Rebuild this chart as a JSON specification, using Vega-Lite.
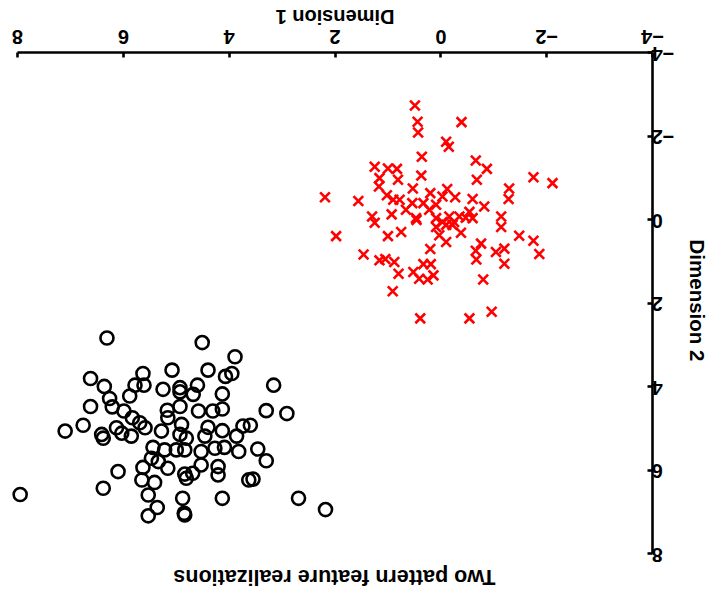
{
  "$schema": "https://vega.github.io/schema/vega-lite/v6.json",
  "autosize": "none",
  "width": 635,
  "height": 501,
  "padding": {"left": 17, "top": 52, "right": 61, "bottom": 45},
  "background": "white",
  "config": {"view": {"stroke": null}, "font": "Liberation Sans"},
  "title": {"text": "Two pattern feature realizations", "orient": "bottom", "angle": 180, "fontSize": 21.5, "font": "Liberation Sans", "fontWeight": "bold", "anchor": "middle", "offset": 24, "color": "black"},
  "data": {"values": [
    {"g":"A","x":0.48,"y":-2.72},{"g":"A","x":0.43,"y":-2.33},{"g":"A","x":0.42,"y":-2.07},{"g":"A","x":-0.40,"y":-2.32},
    {"g":"A","x":-0.11,"y":-1.85},{"g":"A","x":-0.16,"y":-1.73},{"g":"A","x":0.35,"y":-1.49},{"g":"A","x":-0.67,"y":-1.40},
    {"g":"A","x":-0.88,"y":-1.20},{"g":"A","x":1.24,"y":-1.25},{"g":"A","x":0.99,"y":-1.21},{"g":"A","x":0.82,"y":-1.20},
    {"g":"A","x":1.15,"y":-0.98},{"g":"A","x":0.80,"y":-0.94},{"g":"A","x":0.36,"y":-1.04},{"g":"A","x":-0.69,"y":-0.94},
    {"g":"A","x":-1.76,"y":-1.00},{"g":"A","x":-2.12,"y":-0.86},{"g":"A","x":-1.30,"y":-0.73},{"g":"A","x":1.16,"y":-0.78},
    {"g":"A","x":0.52,"y":-0.73},{"g":"A","x":2.18,"y":-0.52},{"g":"A","x":1.55,"y":-0.43},{"g":"A","x":1.01,"y":-0.57},
    {"g":"A","x":0.89,"y":-0.46},{"g":"A","x":0.77,"y":-0.46},{"g":"A","x":0.19,"y":-0.62},{"g":"A","x":-0.13,"y":-0.72},
    {"g":"A","x":-0.28,"y":-0.52},{"g":"A","x":-0.61,"y":-0.48},{"g":"A","x":-1.29,"y":-0.48},{"g":"A","x":-0.83,"y":-0.30},
    {"g":"A","x":0.53,"y":-0.38},{"g":"A","x":0.32,"y":-0.38},{"g":"A","x":0.65,"y":-0.22},{"g":"A","x":0.08,"y":-0.34},
    {"g":"A","x":-0.04,"y":-0.54},{"g":"A","x":0.92,"y":-0.11},{"g":"A","x":1.29,"y":-0.06},{"g":"A","x":1.24,"y":0.09},
    {"g":"A","x":0.45,"y":0.02},{"g":"A","x":0.08,"y":-0.02},{"g":"A","x":-0.04,"y":0.07},{"g":"A","x":-0.17,"y":-0.06},
    {"g":"A","x":-0.36,"y":-0.06},{"g":"A","x":-0.48,"y":-0.03},{"g":"A","x":-0.61,"y":-0.02},{"g":"A","x":-1.15,"y":-0.06},
    {"g":"A","x":-1.15,"y":0.19},{"g":"A","x":0.08,"y":0.19},{"g":"A","x":-0.11,"y":0.14},{"g":"A","x":-0.23,"y":0.14},
    {"g":"A","x":-0.39,"y":0.33},{"g":"A","x":0.02,"y":0.39},{"g":"A","x":1.97,"y":0.41},{"g":"A","x":0.99,"y":0.41},
    {"g":"A","x":0.74,"y":0.31},{"g":"A","x":-0.11,"y":0.55},{"g":"A","x":-1.49,"y":0.40},{"g":"A","x":-1.76,"y":0.52},
    {"g":"A","x":-1.87,"y":0.84},{"g":"A","x":-0.77,"y":0.59},{"g":"A","x":-0.67,"y":0.76},{"g":"A","x":-0.68,"y":0.97},
    {"g":"A","x":-1.05,"y":0.79},{"g":"A","x":-1.21,"y":0.71},{"g":"A","x":-1.21,"y":1.07},{"g":"A","x":0.19,"y":0.72},
    {"g":"A","x":1.45,"y":0.85},{"g":"A","x":1.15,"y":0.99},{"g":"A","x":1.04,"y":0.96},{"g":"A","x":0.87,"y":1.03},
    {"g":"A","x":0.79,"y":1.31},{"g":"A","x":0.51,"y":1.27},{"g":"A","x":0.32,"y":1.08},{"g":"A","x":0.18,"y":1.08},
    {"g":"A","x":0.40,"y":1.43},{"g":"A","x":0.24,"y":1.45},{"g":"A","x":0.13,"y":1.35},{"g":"A","x":-0.81,"y":1.45},
    {"g":"A","x":0.90,"y":1.73},{"g":"A","x":0.38,"y":2.38},{"g":"A","x":-0.55,"y":2.38},{"g":"A","x":-0.97,"y":2.22},
    {"g":"A","x":0.46,"y":-0.02},{"g":"A","x":-0.26,"y":0.07},{"g":"A","x":0.21,"y":-0.22},{"g":"A","x":-0.55,"y":-0.17},
    {"g":"B","x":6.30,"y":2.85},{"g":"B","x":4.50,"y":2.96},{"g":"B","x":3.88,"y":3.30},{"g":"B","x":5.07,"y":3.62},
    {"g":"B","x":4.39,"y":3.62},{"g":"B","x":5.62,"y":3.70},{"g":"B","x":4.06,"y":3.77},{"g":"B","x":3.94,"y":3.70},
    {"g":"B","x":6.61,"y":3.82},{"g":"B","x":3.15,"y":3.98},{"g":"B","x":6.35,"y":4.01},{"g":"B","x":5.77,"y":3.98},
    {"g":"B","x":5.60,"y":3.98},{"g":"B","x":5.24,"y":4.08},{"g":"B","x":4.92,"y":4.04},{"g":"B","x":4.59,"y":3.98},
    {"g":"B","x":4.92,"y":4.14},{"g":"B","x":4.67,"y":4.20},{"g":"B","x":4.12,"y":4.19},{"g":"B","x":6.25,"y":4.30},
    {"g":"B","x":5.87,"y":4.24},{"g":"B","x":6.20,"y":4.50},{"g":"B","x":6.61,"y":4.49},{"g":"B","x":4.92,"y":4.49},
    {"g":"B","x":5.16,"y":4.58},{"g":"B","x":4.57,"y":4.60},{"g":"B","x":4.30,"y":4.60},{"g":"B","x":4.12,"y":4.55},
    {"g":"B","x":3.29,"y":4.59},{"g":"B","x":2.90,"y":4.66},{"g":"B","x":5.98,"y":4.60},{"g":"B","x":5.82,"y":4.76},
    {"g":"B","x":5.15,"y":4.76},{"g":"B","x":6.75,"y":4.94},{"g":"B","x":7.09,"y":5.08},{"g":"B","x":6.40,"y":5.16},
    {"g":"B","x":6.37,"y":5.25},{"g":"B","x":6.12,"y":5.00},{"g":"B","x":6.02,"y":5.13},{"g":"B","x":5.84,"y":5.20},
    {"g":"B","x":5.68,"y":4.88},{"g":"B","x":5.58,"y":5.00},{"g":"B","x":5.27,"y":5.08},{"g":"B","x":4.89,"y":4.92},
    {"g":"B","x":4.92,"y":5.16},{"g":"B","x":4.80,"y":5.25},{"g":"B","x":4.39,"y":4.99},{"g":"B","x":4.45,"y":5.20},
    {"g":"B","x":4.12,"y":5.07},{"g":"B","x":3.85,"y":5.20},{"g":"B","x":3.73,"y":4.96},{"g":"B","x":3.59,"y":4.94},
    {"g":"B","x":5.43,"y":5.47},{"g":"B","x":5.21,"y":5.53},{"g":"B","x":4.99,"y":5.53},{"g":"B","x":4.83,"y":5.53},
    {"g":"B","x":4.52,"y":5.57},{"g":"B","x":4.26,"y":5.49},{"g":"B","x":4.08,"y":5.47},{"g":"B","x":3.81,"y":5.57},
    {"g":"B","x":3.45,"y":5.51},{"g":"B","x":3.29,"y":5.79},{"g":"B","x":5.46,"y":5.73},{"g":"B","x":5.33,"y":5.81},
    {"g":"B","x":5.15,"y":5.97},{"g":"B","x":5.62,"y":5.95},{"g":"B","x":6.09,"y":6.05},{"g":"B","x":4.83,"y":6.11},
    {"g":"B","x":4.68,"y":6.09},{"g":"B","x":4.52,"y":5.89},{"g":"B","x":4.20,"y":5.93},{"g":"B","x":4.20,"y":6.13},
    {"g":"B","x":5.64,"y":6.25},{"g":"B","x":5.40,"y":6.31},{"g":"B","x":4.80,"y":6.21},{"g":"B","x":3.62,"y":6.25},
    {"g":"B","x":3.54,"y":6.23},{"g":"B","x":6.37,"y":6.45},{"g":"B","x":7.94,"y":6.60},{"g":"B","x":5.52,"y":6.61},
    {"g":"B","x":4.87,"y":6.69},{"g":"B","x":4.12,"y":6.69},{"g":"B","x":2.68,"y":6.69},{"g":"B","x":2.17,"y":6.96},
    {"g":"B","x":5.35,"y":6.91},{"g":"B","x":5.52,"y":7.11},{"g":"B","x":4.84,"y":7.05},{"g":"B","x":4.83,"y":7.09}
  ]},
  "mark": {"type": "point", "filled": false, "strokeWidth": 2.6, "opacity": 1},
  "encoding": {
    "x": {"field": "x", "type": "quantitative",
      "scale": {"domain": [-4, 8], "reverse": true, "nice": false, "zero": false},
      "axis": {"orient": "top", "title": "Dimension 1", "values": [-4, -2, 0, 2, 4, 6, 8], "grid": false,
        "labelAngle": 180, "labelBaseline": "top", "labelAlign": "center", "labelFontSize": 20, "labelFontWeight": "bold", "labelFont": "Liberation Sans", "labelColor": "black", "labelPadding": 12,
        "tickSize": -5, "tickWidth": 2.6, "tickColor": "black", "domainColor": "black", "domainWidth": 2.6,
        "titleAngle": 180, "titleFontSize": 20, "titleFontWeight": "bold", "titleFont": "Liberation Sans", "titleColor": "black", "titleX": 317.5, "titleY": -37, "titleBaseline": "middle", "titleAlign": "center"}},
    "y": {"field": "y", "type": "quantitative",
      "scale": {"domain": [-4, 8], "reverse": true, "nice": false, "zero": false},
      "axis": {"orient": "right", "title": "Dimension 2", "values": [-4, -2, 0, 2, 4, 6, 8], "grid": false,
        "labelAngle": 180, "labelBaseline": "middle", "labelAlign": "right", "labelFontSize": 20, "labelFontWeight": "bold", "labelFont": "Liberation Sans", "labelColor": "black", "labelPadding": 4,
        "tickSize": -5, "tickWidth": 2.6, "tickColor": "black", "domainColor": "black", "domainWidth": 2.6,
        "titleAngle": 90, "titleFontSize": 20.5, "titleFontWeight": "bold", "titleFont": "Liberation Sans", "titleColor": "black", "titleX": 43, "titleY": 248, "titleBaseline": "middle", "titleAlign": "center"}},
    "color": {"field": "g", "type": "nominal", "scale": {"domain": ["A", "B"], "range": ["#ff0000", "#000000"]}, "legend": null},
    "shape": {"field": "g", "type": "nominal", "scale": {"domain": ["A", "B"], "range": ["M-1,-1L1,1M-1,1L1,-1", "circle"]}, "legend": null},
    "size": {"field": "g", "type": "nominal", "scale": {"domain": ["A", "B"], "range": [95, 170]}, "legend": null}
  }
}
